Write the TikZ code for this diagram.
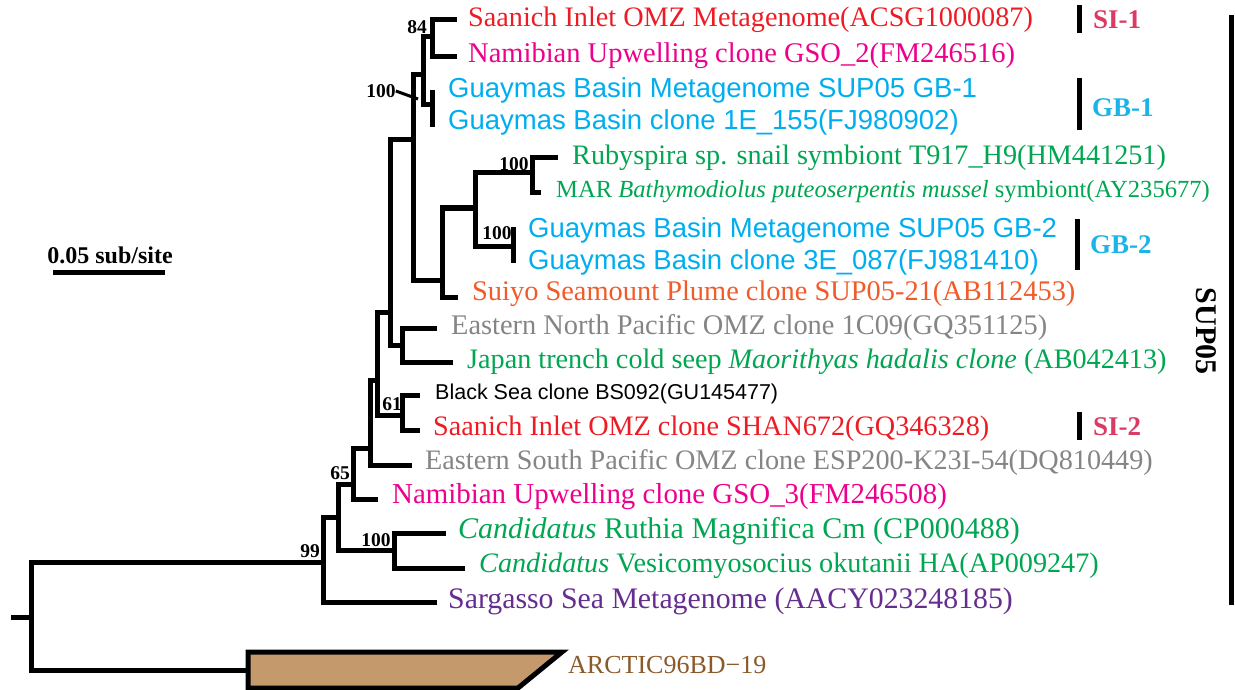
\documentclass[tikz,border=0pt]{standalone}
\usepackage{fontspec}
\setmainfont{Liberation Serif}
\newfontfamily\arial{Liberation Sans}
\definecolor{cRed}{HTML}{ED1C24}
\definecolor{cMag}{HTML}{EC008C}
\definecolor{cBlue}{HTML}{00AEEF}
\definecolor{cGreen}{HTML}{00A651}
\definecolor{cOrange}{HTML}{F15A29}
\definecolor{cGray}{HTML}{858585}
\definecolor{cPurple}{HTML}{662D91}
\definecolor{cBrown}{HTML}{8B5A2B}
\definecolor{cTan}{HTML}{C49A6C}
\definecolor{cCrim}{HTML}{DB3A64}
\definecolor{cClBlue}{HTML}{1CB4E8}
\begin{document}
\begin{tikzpicture}[x=1pt,y=-1pt,
  br/.style={line width=5pt},
  lab/.style={anchor=west,inner sep=0pt,font=\fontsize{28.2}{32}\selectfont},
  slab/.style={anchor=west,inner sep=0pt,font=\arial\fontsize{27.5}{32}\selectfont},
  boot/.style={inner sep=0pt,font=\bfseries\fontsize{19.5}{22}\selectfont},
  clade/.style={anchor=west,inner sep=0pt,font=\bfseries\fontsize{27}{30}\selectfont},
  cbar/.style={line width=5pt}]
\useasboundingbox (0,0) rectangle (1235,690);
% internal nodes
\coordinate (stub) at (11,617);
\coordinate (R) at (31,617);
\coordinate (boxL) at (248,670);
\coordinate (n99) at (323,562);
\coordinate (n338) at (338,517);
\coordinate (n394) at (394,550);
\coordinate (n353) at (353,484);
\coordinate (n370) at (370,448);
\coordinate (n377) at (377,380);
\coordinate (n402b) at (402,415);
\coordinate (n390) at (390,312);
\coordinate (n402a) at (402,345);
\coordinate (n413) at (413,140);
\coordinate (n423) at (423,75);
\coordinate (nSI) at (432,37);
\coordinate (nGB1) at (432,105);
\coordinate (n442) at (442,280);
\coordinate (n475) at (475,208);
\coordinate (n532) at (532,173);
\coordinate (nGB2) at (513,246);
% tips
\coordinate (t1) at (457,20);
\coordinate (t2) at (457,57);
\coordinate (t3) at (432,90);
\coordinate (t4) at (432,127);
\coordinate (t5) at (558,158);
\coordinate (t6) at (541,193);
\coordinate (t7) at (513,227);
\coordinate (t8) at (513,263);
\coordinate (t9) at (458,297);
\coordinate (t10) at (437,328);
\coordinate (t11) at (453,362);
\coordinate (t12) at (420,395);
\coordinate (t13) at (420,430);
\coordinate (t14) at (412,465);
\coordinate (t15) at (378,499);
\coordinate (t16) at (446,533);
\coordinate (t17) at (465,568);
\coordinate (t18) at (437,602);
% branches
\draw[br] (stub) -- (R);
\draw[br] (R) |- (n99); \draw[br] (R) |- (boxL);
\draw[br] (n99) |- (n338); \draw[br] (n99) |- (t18);
\draw[br] (n338) |- (n353); \draw[br] (n338) |- (n394);
\draw[br] (n394) |- (t16); \draw[br] (n394) |- (t17);
\draw[br] (n353) |- (n370); \draw[br] (n353) |- (t15);
\draw[br] (n370) |- (n377); \draw[br] (n370) |- (t14);
\draw[br] (n377) |- (n390); \draw[br] (n377) |- (n402b);
\draw[br] (n402b) |- (t12); \draw[br] (n402b) |- (t13);
\draw[br] (n390) |- (n413); \draw[br] (n390) |- (n402a);
\draw[br] (n402a) |- (t10); \draw[br] (n402a) |- (t11);
\draw[br] (n413) |- (n423); \draw[br] (n413) |- (n442);
\draw[br] (n423) |- (nSI); \draw[br] (n423) |- (nGB1);
\draw[br] (nSI) |- (t1); \draw[br] (nSI) |- (t2);
\draw[br] (nGB1) |- (t3); \draw[br] (nGB1) |- (t4);
\draw[br] (n442) |- (n475); \draw[br] (n442) |- (t9);
\draw[br] (n475) |- (n532); \draw[br] (n475) |- (nGB2);
\draw[br] (n532) |- (t5); \draw[br] (n532) |- (t6);
\draw[br] (nGB2) |- (t7); \draw[br] (nGB2) |- (t8);
% collapsed clade
\draw[br,fill=cTan] (248,652) -- (562,652) -- (518,688) -- (248,688) -- cycle;
\node[lab,text=cBrown,font=\fontsize{26}{30}\selectfont] (arc) at (568,665) {ARCTIC96BD−19};
% leaf labels
\node[lab,text=cRed] (l1) at (468,20) {Saanich Inlet OMZ Metagenome(ACSG1000087)};
\node[lab,text=cMag,font=\fontsize{28.5}{32}\selectfont] (l2) at (468,56) {Namibian Upwelling clone GSO\_2(FM246516)};
\node[slab,text=cBlue] (l3) at (448,90) {Guaymas Basin Metagenome SUP05 GB-1};
\node[slab,text=cBlue] (l4) at (448,122) {Guaymas Basin clone 1E\_155(FJ980902)};
\node[lab,text=cGreen] (l5) at (572,158) {Rubyspira sp. snail symbiont T917\_H9(HM441251)};
\node[lab,text=cGreen,font=\fontsize{24.6}{28}\selectfont] (l6) at (556,192) {MAR \textit{Bathymodiolus puteoserpentis mussel} symbiont(AY235677)};
\node[slab,text=cBlue] (l7) at (528,230) {Guaymas Basin Metagenome SUP05 GB-2};
\node[slab,text=cBlue] (l8) at (528,262) {Guaymas Basin clone 3E\_087(FJ981410)};
\node[lab,text=cOrange,font=\fontsize{28.4}{32}\selectfont] (l9) at (472,294) {Suiyo Seamount Plume clone SUP05-21(AB112453)};
\node[lab,text=cGray,font=\fontsize{28.4}{32}\selectfont] (l10) at (451,328) {Eastern North Pacific OMZ clone 1C09(GQ351125)};
\node[lab,text=cGreen] (l11) at (467,362) {Japan trench cold seep \textit{Maorithyas hadalis clone} (AB042413)};
\node[slab,text=black,font=\arial\fontsize{21.5}{26}\selectfont] (l12) at (435,394) {Black Sea clone BS092(GU145477)};
\node[lab,text=cRed] (l13) at (433,429) {Saanich Inlet OMZ clone SHAN672(GQ346328)};
\node[lab,text=cGray] (l14) at (425,463) {Eastern South Pacific OMZ clone ESP200-K23I-54(DQ810449)};
\node[lab,text=cMag,font=\fontsize{28.9}{32}\selectfont] (l15) at (392,497) {Namibian Upwelling clone GSO\_3(FM246508)};
\node[lab,text=cGreen,font=\fontsize{30}{32}\selectfont] (l16) at (458,531) {\textit{Candidatus} Ruthia Magnifica Cm (CP000488)};
\node[lab,text=cGreen] (l17) at (479,566) {\textit{Candidatus} Vesicomyosocius okutanii HA(AP009247)};
\node[lab,text=cPurple,font=\fontsize{29.8}{32}\selectfont] (l18) at (448,601) {Sargasso Sea Metagenome (AACY023248185)};
% bootstrap values
\node[boot] (b84) at (417,27) {84};
\node[boot] (b100a) at (381,91) {100};
\coordinate (lead) at (418,99);
\draw[line width=3pt] (b100a.east) -- (lead);
\node[boot] (b100b) at (514,164) {100};
\node[boot] (b100c) at (497,233) {100};
\node[boot] (b61) at (392,404) {61};
\node[boot] (b65) at (340,473) {65};
\node[boot] (b99) at (310,551) {99};
\node[boot] (b100d) at (376,540) {100};
% scale bar
\node[inner sep=0pt,font=\bfseries\fontsize{24}{28}\selectfont] (sc) at (110,255) {0.05 sub/site};
\coordinate (sbL) at (53,272);
\coordinate (sbR) at (165,272);
\draw[cbar] (sbL) -- (sbR);
% clade bars
\coordinate (si1a) at (1079,5); \coordinate (si1b) at (1079,33);
\draw[cbar] (si1a) -- (si1b);
\node[clade,text=cCrim] (si1) at (1093,20) {SI-1};
\coordinate (gb1a) at (1079,78); \coordinate (gb1b) at (1079,130);
\draw[cbar] (gb1a) -- (gb1b);
\node[clade,text=cClBlue] (gb1) at (1092,108) {GB-1};
\coordinate (gb2a) at (1077,219); \coordinate (gb2b) at (1077,270);
\draw[cbar] (gb2a) -- (gb2b);
\node[clade,text=cClBlue] (gb2) at (1090,245) {GB-2};
\coordinate (si2a) at (1079,412); \coordinate (si2b) at (1079,440);
\draw[cbar] (si2a) -- (si2b);
\node[clade,text=cCrim] (si2) at (1093,427) {SI-2};
\coordinate (supa) at (1231,15); \coordinate (supb) at (1231,605);
\draw[cbar] (supa) -- (supb);
\node[inner sep=0pt,rotate=-90,font=\bfseries\fontsize{30}{32}\selectfont] (sup) at (1206,331) {SUP05};
\end{tikzpicture}
\end{document}
